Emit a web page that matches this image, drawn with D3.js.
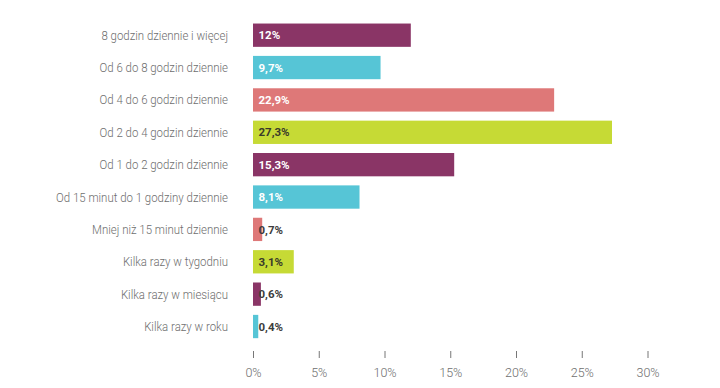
<!DOCTYPE html>
<html>
<head>
<meta charset="utf-8">
<script src="https://cdn.jsdelivr.net/npm/d3@7"></script>
<style>
  body { margin: 0; background: #fff; }
  svg { font-family: Roboto, "Open Sans", sans-serif; }
</style>
</head>
<body>
<div id="chart"></div>
<script>
// data
const categories = [
  "8 godzin dziennie i więcej",
  "Od 6 do 8 godzin dziennie",
  "Od 4 do 6 godzin dziennie",
  "Od 2 do 4 godzin dziennie",
  "Od 1 do 2 godzin dziennie",
  "Od 15 minut do 1 godziny dziennie",
  "Mniej niż 15 minut dziennie",
  "Kilka razy w tygodniu",
  "Kilka razy w miesiącu",
  "Kilka razy w roku"
];
const values = [12, 9.7, 22.9, 27.3, 15.3, 8.1, 0.7, 3.1, 0.6, 0.4];
const valueLabels = ["12%", "9,7%", "22,9%", "27,3%", "15,3%", "8,1%", "0,7%", "3,1%", "0,6%", "0,4%"];
const tickValues = [0, 5, 10, 15, 20, 25, 30];

const palette = ["#8a3566", "#56c5d6", "#de7878", "#c6da35"];
// label colour per palette slot (dark text on lime)
const labelOnBar = ["#ffffff", "#ffffff", "#ffffff", "#3a3a2a"];

const width = 720, height = 388;
const margin = {left: 253, right: 70, top: 19, bottom: 46};

const svg = d3.select("#chart").append("svg")
  .attr("width", width)
  .attr("height", height);

const x = d3.scaleLinear()
  .domain([0, 30])
  .range([margin.left, margin.left + 394.5]);

const y = d3.scaleBand()
  .domain(categories)
  .range([margin.top, margin.top + 32.37 * categories.length])
  .paddingInner(0.28)
  .paddingOuter(0.14);

// bars
svg.append("g").selectAll("rect")
  .data(values)
  .enter().append("rect")
  .attr("x", x(0))
  .attr("y", (d, i) => y(categories[i]))
  .attr("width", d => x(d) - x(0))
  .attr("height", y.bandwidth())
  .attr("fill", (d, i) => palette[i % 4]);

// category labels (source font is a bit condensed, so squeeze horizontally)
svg.append("g").selectAll("text")
  .data(categories)
  .enter().append("text")
  .attr("transform", d => `translate(228, ${y(d) + y.bandwidth() / 2}) scale(0.88, 1)`)
  .attr("dy", "0.35em")
  .attr("text-anchor", "end")
  .attr("fill", "#6e6e6e")
  .attr("font-size", 13)
  .attr("font-weight", 300)
  .text(d => d);

// value labels
svg.append("g").selectAll("text")
  .data(values)
  .enter().append("text")
  .attr("x", x(0) + 5.5)
  .attr("y", (d, i) => y(categories[i]) + y.bandwidth() / 2)
  .attr("dy", "0.36em")
  .attr("font-size", 11.5)
  .attr("font-weight", "bold")
  .attr("fill", (d, i) => d < 2 ? "#3c3c3c" : labelOnBar[i % 4])
  .text((d, i) => valueLabels[i]);

// x axis
const axis = svg.append("g")
  .attr("transform", `translate(0, 351)`)
  .call(d3.axisBottom(x)
    .tickValues(tickValues)
    .tickSize(7)
    .tickFormat(d => d + "%"));
axis.select(".domain").remove();
axis.selectAll(".tick line").attr("stroke", "#777").attr("stroke-width", 1);
axis.selectAll(".tick text")
  .attr("fill", "#6e6e6e")
  .attr("font-size", 12.5)
  .attr("font-weight", 300)
  .attr("font-family", "Roboto, sans-serif")
  .attr("y", 17);
</script>
</body>
</html>
